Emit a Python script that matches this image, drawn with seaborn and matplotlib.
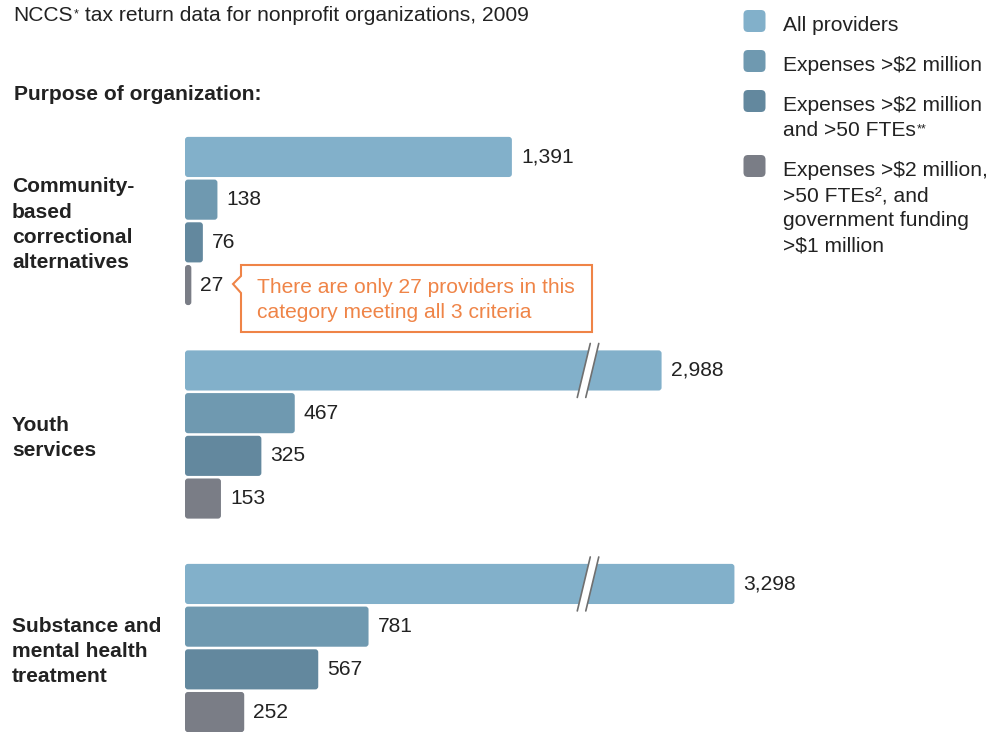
import matplotlib
matplotlib.use("Agg")
import matplotlib.pyplot as plt
import matplotlib.transforms as mtransforms
from matplotlib.patches import FancyBboxPatch, Polygon
import pandas as pd
import seaborn as sns

# Data
purposes = ["Community-based correctional alternatives", "Youth services",
            "Substance and mental health treatment"]
purpose_lines = [["Community-", "based", "correctional", "alternatives"],
                 ["Youth", "services"],
                 ["Substance and", "mental health", "treatment"]]
groups = ["All providers", "Expenses >$2 million",
          "Expenses >$2 million and >50 FTEs",
          "Expenses >$2 million, >50 FTEs, and government funding >$1 million"]
all_providers = [1391, 2988, 3298]
exp_2m = [138, 467, 781]
exp_2m_50fte = [76, 325, 567]
exp_2m_50fte_gov = [27, 153, 252]
series = [all_providers, exp_2m, exp_2m_50fte, exp_2m_50fte_gov]
legend_lines = [["All providers"],
                ["Expenses >$2 million"],
                ["Expenses >$2 million", "and >50 FTEs"],
                ["Expenses >$2 million,", ">50 FTEs\u00b2, and", "government funding", ">$1 million"]]
callout = ["There are only 27 providers in this", "category meeting all 3 criteria"]

colors = ["#82b0ca", "#6f99b0", "#63889e", "#7a7d86"]
TEXT = "#222222"
ORANGE = "#ef8447"
FS = 15.1

# broken axis: long bars are shortened by `cut`, break drawn at `break_x`
break_at = 2000
cut = 960
break_x = 1715

rows = []
for g, vals in zip(groups, series):
    for p, v in zip(purposes, vals):
        rows.append({"purpose": p, "group": g, "value": v,
                     "shown": v - cut if v > break_at else v})
df = pd.DataFrame(rows)

sns.set_style("white")
plt.rcParams["font.family"] = ["Liberation Sans", "DejaVu Sans"]

W, H = 992, 732
fig = plt.figure(figsize=(W / 100, H / 100), dpi=100)
ax = fig.add_axes([0, 0, 1, 1])

sns.barplot(data=df, x="shown", y="purpose", hue="group", order=purposes,
            hue_order=groups, palette=colors, saturation=1, width=0.8,
            gap=0.06, errorbar=None, legend=False, ax=ax)

xpx = 0.235   # pixels per unit
ypx = 213.5   # pixels per category
ax.set_xlim(-185 / xpx, (W - 185) / xpx)
ax.set_ylim((H - 221) / ypx, -221 / ypx)
ax.axis("off")

def inch(x, y):
    return x / 100, (H - y) / 100

# value labels
for cont, vals in zip(ax.containers, series):
    ax.bar_label(cont, labels=[f"{v:,}" for v in vals], padding=6.5,
                 fontsize=FS, color=TEXT)

# rounded bars
r = 3 / xpx
asp = (3 / ypx) / r
for cont in ax.containers:
    for rect in cont:
        fb = FancyBboxPatch((rect.get_x(), rect.get_y()), rect.get_width(),
                            rect.get_height(),
                            boxstyle=f"round,pad=0,rounding_size={r}",
                            mutation_aspect=asp, fc=rect.get_facecolor(),
                            ec="none", zorder=2)
        ax.add_patch(fb)
        rect.set_visible(False)

# break marks on the shortened bars
for i, v in enumerate(all_providers):
    if v > break_at:
        rect = ax.containers[0][i]
        cy = rect.get_y() + rect.get_height() / 2
        tr = fig.dpi_scale_trans + mtransforms.ScaledTranslation(break_x, cy, ax.transData)
        a_bot, a_top = (-0.1075, -0.27), (0.0225, 0.27)
        b_bot, b_top = (-0.0225, -0.27), (0.1075, 0.27)
        ax.add_patch(Polygon([a_bot, a_top, b_top, b_bot], closed=True,
                             fc="white", ec="none", transform=tr, zorder=3))
        for p0, p1 in [(a_bot, a_top), (b_bot, b_top)]:
            ax.plot([p0[0], p1[0]], [p0[1], p1[1]], color="#707070", lw=1.2,
                    transform=tr, zorder=4, clip_on=False)

# category labels
blend = mtransforms.blended_transform_factory(fig.dpi_scale_trans, ax.transData)
for i, lines in enumerate(purpose_lines):
    first = -12.5 * (len(lines) - 1) + 9
    for k, line in enumerate(lines):
        ax.annotate(line, xy=(0.12, i), xycoords=blend,
                    xytext=(0, -(first + 25 * k) * 0.72), textcoords="offset points",
                    va="baseline", ha="left", fontsize=FS, fontweight="bold",
                    color=TEXT, annotation_clip=False)

# title and subtitle
t1 = fig.text(*inch(13.5, 20.7), "NCCS", transform=fig.dpi_scale_trans,
              fontsize=FS, color=TEXT, va="baseline")
ax.annotate("*", xy=(1, 1), xycoords=t1, xytext=(0.5, -2),
            textcoords="offset points", va="top", ha="left", fontsize=9, color=TEXT)
ax.annotate(" tax return data for nonprofit organizations, 2009", xy=(1, 0),
            xycoords=t1, xytext=(4, 0), textcoords="offset points",
            va="bottom", ha="left", fontsize=FS, color=TEXT)
fig.text(*inch(13.5, 100), "Purpose of organization:", transform=fig.dpi_scale_trans,
         fontsize=FS, fontweight="bold", color=TEXT, va="baseline")

# legend
base = 31
for lines, c in zip(legend_lines, colors):
    x0, y0 = inch(743.5, base - 10 + 11)
    fig.add_artist(FancyBboxPatch((x0, y0), 0.22, 0.22,
                                  boxstyle="round,pad=0,rounding_size=0.045",
                                  fc=c, ec="none", transform=fig.dpi_scale_trans))
    for k, line in enumerate(lines):
        t = fig.text(*inch(783, base + 25 * k), line, transform=fig.dpi_scale_trans,
                     fontsize=FS, color=TEXT, va="baseline", parse_math=False)
        if line == "and >50 FTEs":
            ax.annotate("**", xy=(1, 1), xycoords=t, xytext=(0.5, -2),
                        textcoords="offset points", va="top", ha="left",
                        fontsize=9, color=TEXT)
    base += 25 * len(lines) + 15

# callout
pts = [(241, 265), (592, 265), (592, 332), (241, 332), (241, 293),
       (233, 284), (241, 276)]
fig.add_artist(Polygon([inch(x, y) for x, y in pts], closed=True, fc="white",
                       ec=ORANGE, lw=1.5, transform=fig.dpi_scale_trans))
for k, line in enumerate(callout):
    fig.text(*inch(257, 293 + 25 * k), line, transform=fig.dpi_scale_trans,
             fontsize=FS, color=ORANGE, va="baseline")

fig.savefig("out.png", dpi=100)
